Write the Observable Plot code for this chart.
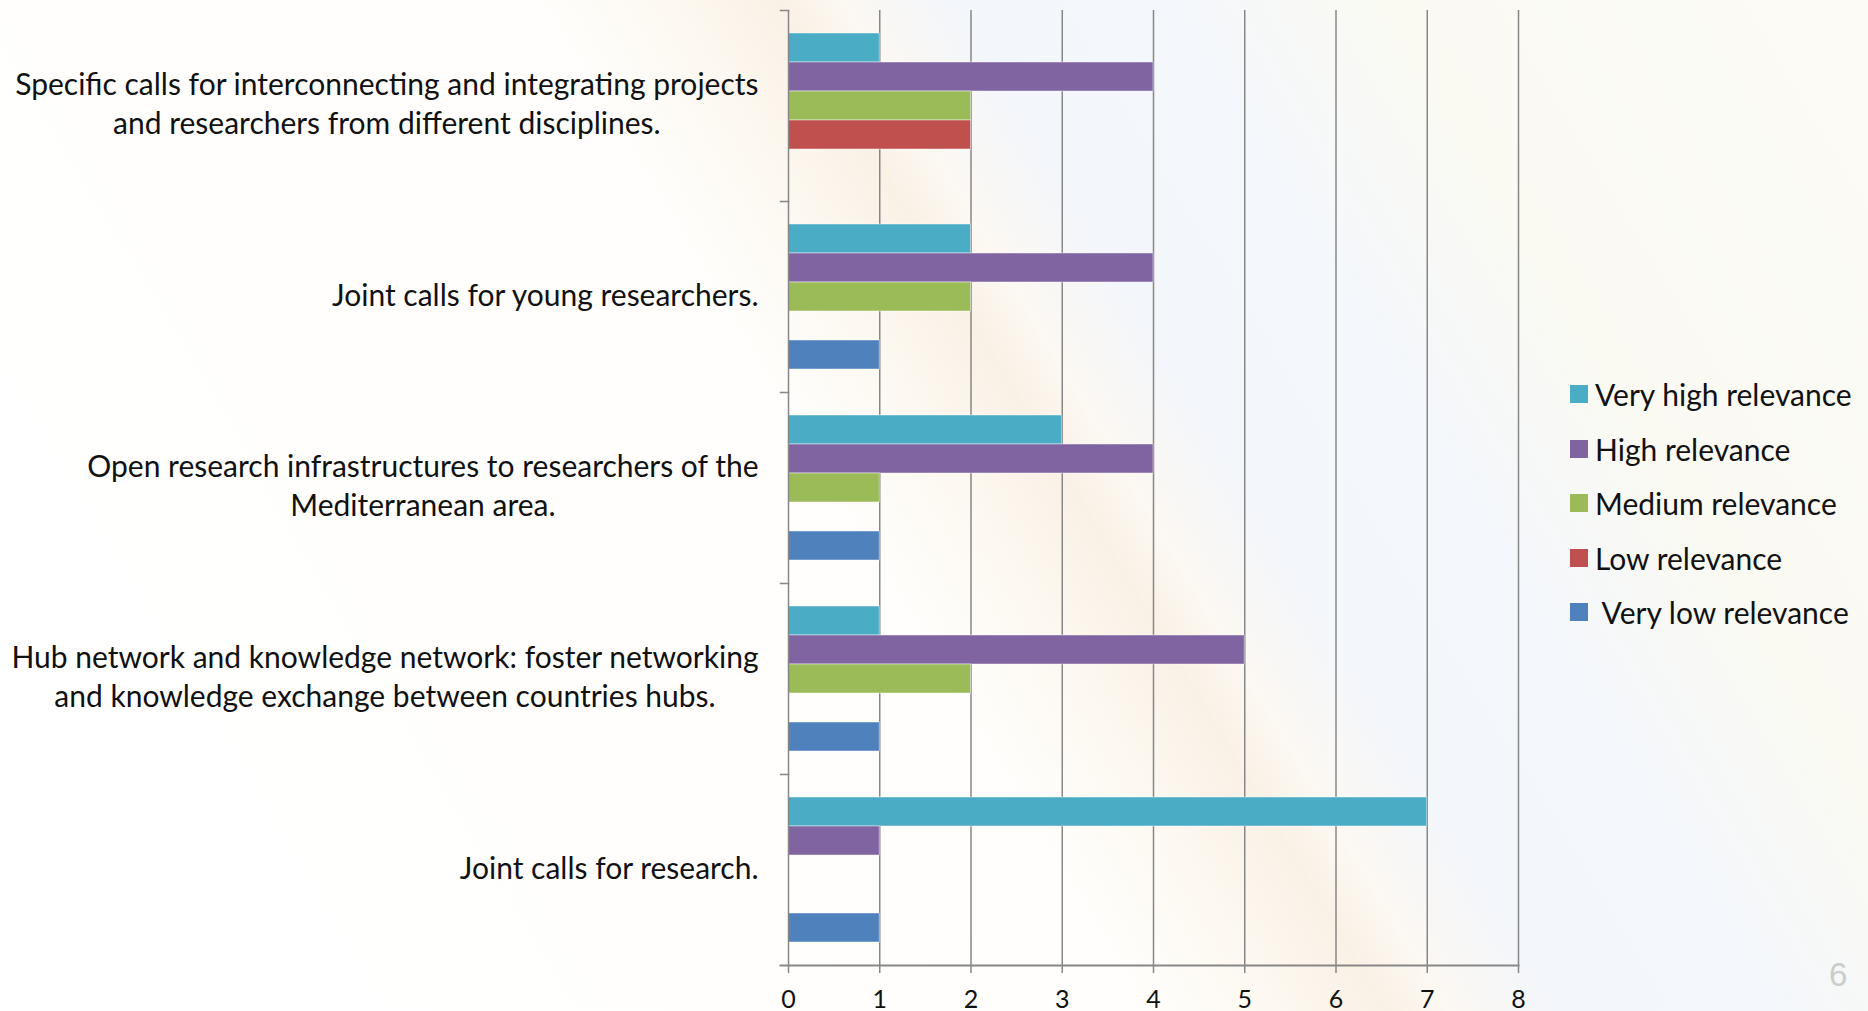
<!DOCTYPE html>
<html>
<head>
<meta charset="utf-8">
<script src="https://cdn.jsdelivr.net/npm/d3@7"></script>
<script src="https://cdn.jsdelivr.net/npm/@observablehq/plot@0.6"></script>
<style>
  html, body { margin: 0; padding: 0; }
  body {
    width: 1868px; height: 1011px; overflow: hidden; position: relative;
    font-family: Lato, "Open Sans", sans-serif;
    background: linear-gradient(59deg, #ffffff 0%, #fffefc 46%, #fdf9f2 51%, #faf1e6 56%, #fcf8f2 58.5%, #f3f6fb 63%, #f4f7fb 72%, #fafaf3 80%, #fcfbf6 100%);
  }
  #chart { position: absolute; left: 0; top: 0; }
  #legend { position: absolute; left: 1570px; top: 367px; width: 298px; }
  #legend > div { font-family: Lato, sans-serif !important; font-size: 30px !important; color: #111 !important; margin: 0 !important; }
  #legend > div > div { height: 54.5px; display: flex !important; align-items: center !important; padding: 0 !important; white-space: pre; }
  #legend svg { margin-right: 7px !important; flex: none; }
  #legend > div > div > div, #legend span { overflow: visible !important; max-width: none !important; white-space: pre; }
  #page { position: absolute; left: 1829px; top: 956px; font-family: "Liberation Sans", Arial, sans-serif; font-size: 33px; color: #cccccc; }
</style>
</head>
<body>
<div id="chart"></div>
<div id="legend"></div>
<div id="page">6</div>
<script>
// ---- data ----
const categories = [
  "Specific calls for interconnecting and integrating projects and researchers from different disciplines.",
  "Joint calls for young researchers.",
  "Open research infrastructures to researchers of the Mediterranean area.",
  "Hub network and knowledge network: foster networking and knowledge exchange between countries hubs.",
  "Joint calls for research."
];
const categoryLabels = [
  "Specific calls for interconnecting and integrating projects\nand researchers from different disciplines.",
  "Joint calls for young researchers.",
  "Open research infrastructures to researchers of the\nMediterranean area.",
  "Hub network and knowledge network: foster networking\nand knowledge exchange between countries hubs.",
  "Joint calls for research."
];
const series = ["Very high relevance", "High relevance", "Medium relevance", "Low relevance", "Very low relevance"];
const seriesLabels = ["Very high relevance", "High relevance", "Medium relevance", "Low relevance", "\u00a0Very low relevance"];
const veryHigh = [1, 2, 3, 1, 7];
const high     = [4, 4, 4, 5, 1];
const medium   = [2, 2, 1, 2, 0];
const low      = [2, 0, 0, 0, 0];
const veryLow  = [0, 1, 1, 1, 1];
const colors = ["#4BACC6", "#8064A2", "#9BBB59", "#C0504D", "#4F81BD"];
const xTicks = [0, 1, 2, 3, 4, 5, 6, 7, 8];

// ---- build table ----
const valuesBySeries = [veryHigh, high, medium, low, veryLow];
const rows = [];
categories.forEach((c, i) => {
  series.forEach((s, j) => {
    const v = valuesBySeries[j][i];
    if (v > 0) rows.push({category: c, series: s, value: v});
  });
});

const gridColor = "#878787";
const W = 1868, H = 1011;
const mL = 788, mR = 350, mT = 9, mB = 46;

const plot = Plot.plot({
  width: W, height: H,
  marginLeft: mL, marginRight: mR, marginTop: mT, marginBottom: mB,
  style: {background: "transparent", fontFamily: "Lato, sans-serif", color: "#111", overflow: "visible"},
  x: {domain: [0, 8], ticks: xTicks, label: null},
  y: {domain: series, paddingInner: 0, paddingOuter: 0.74, axis: null},
  fy: {domain: categories, padding: 0, axis: null},
  color: {domain: series, range: colors},
  marks: [
    Plot.ruleX(xTicks.slice(1), {stroke: gridColor, strokeWidth: 1.5}),
    Plot.barX(rows, {fy: "category", y: "series", x: "value", fill: "series",
      stroke: "#ffffff", strokeOpacity: 0.45, strokeWidth: 1, insetTop: 0, insetBottom: 0}),
    Plot.ruleX([0], {stroke: gridColor, strokeWidth: 1.5}),
    Plot.frame({anchor: "top", stroke: gridColor, strokeWidth: 1.5, insetLeft: -8, insetRight: W - mL - mR}),
    Plot.frame({anchor: "bottom", facet: "super", stroke: gridColor, strokeWidth: 2, insetLeft: -8}),
    Plot.axisX({anchor: "bottom", ticks: xTicks, tickSize: 8, tickPadding: 16.5, fontSize: 25,
      stroke: gridColor, strokeWidth: 1.5, fill: "#111", label: null, tickFormat: d => String(d)}),
    Plot.text(categories, {fy: d => d, text: (d, i) => categoryLabels[i],
      frameAnchor: "left", textAnchor: "end", dx: -30, dy: -4, fontSize: 30, lineHeight: 1.32, fill: "#111"})
  ]
});
document.getElementById("chart").appendChild(plot);

// centre the lines of multi-line category labels (as in the original)
plot.querySelectorAll("text").forEach(t => {
  const spans = t.querySelectorAll("tspan");
  if (spans.length > 1) {
    let w = 0;
    spans.forEach(s => { w = Math.max(w, s.getComputedTextLength()); });
    t.setAttribute("text-anchor", "middle");
    spans.forEach(s => s.setAttribute("x", String(-w / 2)));
  }
});

const legend = plot.legend("color", {columns: 1, swatchSize: 18,
  tickFormat: d => seriesLabels[series.indexOf(d)]});
document.getElementById("legend").appendChild(legend);
</script>
</body>
</html>
